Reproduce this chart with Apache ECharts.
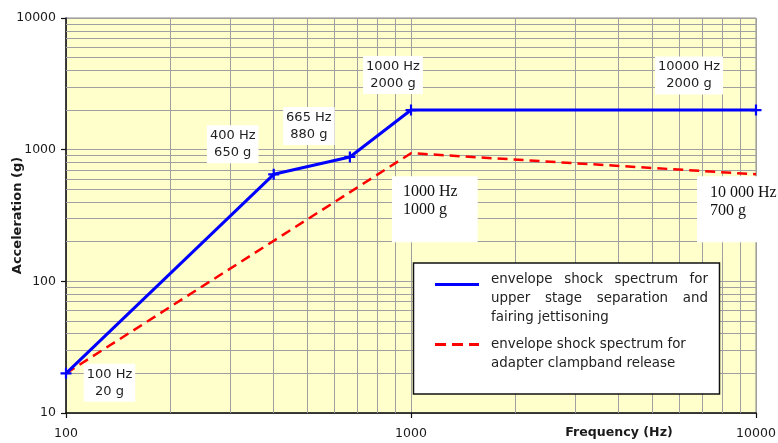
<!DOCTYPE html>
<html><head><meta charset="utf-8">
<script src="https://cdn.jsdelivr.net/npm/echarts@6/dist/echarts.min.js"></script>
<style>html,body{margin:0;padding:0;background:#fff}#c{width:778px;height:443px}</style>
</head><body><div id="c"></div>
<script>
// ---- data ----
const freqUpper = [100, 400, 665, 1000, 10000];
const accelUpper = [20, 650, 880, 2000, 2000];
const labelsUpper = ['100 Hz\n20 g', '400 Hz\n650 g', '665 Hz\n880 g', '1000 Hz\n2000 g', '10000 Hz\n2000 g'];
const freqAdapter = [100, 1000, 10000];
const accelAdapter = [20, 940, 650];
const labelsAdapter = ['', '1000 Hz\n1000 g', '10 000 Hz\n700 g'];
const xMinorTicks = [200, 300, 400, 500, 600, 700, 800, 900, 2000, 3000, 4000, 5000, 6000, 7000, 8000, 9000];
const yMinorTicks = [20, 30, 40, 50, 60, 70, 80, 90, 200, 300, 400, 500, 600, 700, 800, 900, 2000, 3000, 4000, 5000, 6000, 7000, 8000, 9000];
const xTickLabels = ['100', '1000', '10000'];
const yTickLabels = ['10', '100', '1000', '10000'];
const legendUpper = [['envelope', 'shock', 'spectrum', 'for'], ['upper', 'stage', 'separation', 'and'], ['fairing jettisoning']];
const legendAdapter = [['envelope shock spectrum for'], ['adapter clampband release']];

// ---- styling / layout ----
const SANS = '"DejaVu Sans", Verdana, sans-serif';
const SERIF = '"Liberation Serif", "Times New Roman", serif';
const upperLabelOffsets = [[43.5, 9.5], [-41, -30], [-41, -31], [-18, -35], [-67, -34.5]];
const adapterLabelOffsets = [null, [-19, 23], [-59, 2]];
const adapterLabelPadding = [null, [7, 20, 23, 11], [7, 30, 23, 13]];

const chart = echarts.init(document.getElementById('c'), null, {renderer: 'canvas'});

const plusPath = 'path://M4,0H6V4H10V6H6V10H4V6H0V4H4Z';

const upperData = freqUpper.map((f, i) => ({
  value: [f, accelUpper[i]],
  label: {
    show: true,
    formatter: labelsUpper[i],
    position: 'inside',
    offset: upperLabelOffsets[i],
    backgroundColor: '#fff',
    padding: [2, 3],
    color: '#222',
    fontFamily: SANS,
    fontSize: 13,
    lineHeight: 17,
    align: 'center',
    verticalAlign: 'middle'
  }
}));

const adapterData = freqAdapter.map((f, i) => {
  const d = {value: [f, accelAdapter[i]]};
  if (labelsAdapter[i]) {
    d.label = {
      show: true,
      formatter: labelsAdapter[i],
      position: 'inside',
      offset: adapterLabelOffsets[i],
      align: 'left',
      verticalAlign: 'top',
      backgroundColor: '#fff',
      padding: adapterLabelPadding[i],
      color: '#111',
      fontFamily: SERIF,
      fontSize: 16,
      lineHeight: 18
    };
  } else {
    d.label = {show: false};
  }
  return d;
});

// legend graphic with justified text
const ctx = document.createElement('canvas').getContext('2d');
const LFONT = '13.4px "DejaVu Sans"';
ctx.font = LFONT;
function lineTexts(words, x0, width, y, justify) {
  const els = [];
  if (!justify || words.length === 1) {
    els.push({type: 'text', z: 101, style: {x: x0, y: y, text: words.join(' '), font: LFONT, fill: '#222', verticalAlign: 'middle'}});
    return els;
  }
  const ws = words.map(w => ctx.measureText(w).width);
  const total = ws.reduce((a, b) => a + b, 0);
  const gap = (width - total) / (words.length - 1);
  let x = x0;
  words.forEach((w, i) => {
    els.push({type: 'text', z: 101, style: {x: x, y: y, text: w, font: LFONT, fill: '#222', verticalAlign: 'middle'}});
    x += ws[i] + gap;
  });
  return els;
}
const LX = 491, LW = 217;
let legendEls = [
  {type: 'rect', z: 100, shape: {x: 413.5, y: 263, width: 306, height: 131}, style: {fill: '#ffffff', stroke: '#111', lineWidth: 1.5}},
  {type: 'line', z: 101, shape: {x1: 435, y1: 284.5, x2: 479, y2: 284.5}, style: {stroke: '#0000FF', lineWidth: 3}},
  {type: 'line', z: 101, shape: {x1: 435, y1: 344.5, x2: 479, y2: 344.5}, style: {stroke: '#FF0000', lineWidth: 3, lineDash: [11, 6]}}
];
const upperY = [280, 299, 317.5];
legendUpper.forEach((w, i) => { legendEls = legendEls.concat(lineTexts(w, LX, LW, upperY[i], i < 2)); });
const adapterY = [345, 363.5];
legendAdapter.forEach((w, i) => { legendEls = legendEls.concat(lineTexts(w, LX, LW, adapterY[i], false)); });

const option = {
  animation: false,
  backgroundColor: '#fff',
  grid: {left: 66, top: 18, width: 690, height: 395, show: true, backgroundColor: '#FFFFCC', borderColor: '#8a8a8a', borderWidth: 1,
    containLabel: false, outerBoundsMode: 'none'},
  xAxis: {
    type: 'log', logBase: 10, min: 100, max: 10000,
    axisLine: {show: true, onZero: false, lineStyle: {color: '#111', width: 1.5}},
    axisTick: {show: true, length: 5, lineStyle: {color: '#111', width: 1.2}},
    axisLabel: {color: '#1a1a1a', fontFamily: SANS, fontSize: 12.5, margin: 14, hideOverlap: false,
      formatter: v => xTickLabels.find(t => Number(t) === Math.round(v)) || ''},
    splitLine: {show: true, lineStyle: {color: '#a0a0a0', width: 1}},
    minorTick: {show: false}, minorSplitLine: {show: false},
    name: 'Frequency (Hz)', nameLocation: 'middle', nameGap: 13, nameMoveOverlap: false,
    nameTextStyle: {fontFamily: SANS, fontWeight: 'bold', fontSize: 12.6, color: '#1a1a1a', padding: [0, 0, 0, 416]}
  },
  yAxis: {
    type: 'log', logBase: 10, min: 10, max: 10000,
    axisLine: {show: true, onZero: false, lineStyle: {color: '#111', width: 1.5}},
    axisTick: {show: true, length: 5, lineStyle: {color: '#111', width: 1.2}},
    axisLabel: {color: '#1a1a1a', fontFamily: SANS, fontSize: 12.5, margin: 10,
      formatter: v => yTickLabels.find(t => Number(t) === Math.round(v)) || ''},
    splitLine: {show: true, lineStyle: {color: '#a0a0a0', width: 1}},
    name: 'Acceleration (g)', nameLocation: 'middle', nameGap: 42, nameMoveOverlap: false,
    nameTextStyle: {fontFamily: SANS, fontWeight: 'bold', fontSize: 13, color: '#1a1a1a'}
  },
  series: [
    {
      type: 'line', name: 'minor grid', z: 1, silent: true,
      data: [[100, 10]], symbol: 'none', lineStyle: {opacity: 0},
      markLine: {
        silent: true, symbol: 'none', animation: false,
        label: {show: false},
        lineStyle: {color: '#a0a0a0', width: 1, type: 'solid'},
        emphasis: {disabled: true},
        data: xMinorTicks.map(v => ({xAxis: v})).concat(yMinorTicks.map(v => ({yAxis: v})))
      }
    },
    {
      type: 'line', name: 'envelope shock spectrum for adapter clampband release', z: 10,
      data: adapterData,
      symbol: 'circle', symbolSize: 2, showSymbol: true,
      itemStyle: {color: 'rgba(0,0,0,0)'},
      lineStyle: {color: '#FF0000', width: 2.5, type: [10, 6]}
    },
    {
      type: 'line', name: 'envelope shock spectrum for upper stage separation and fairing jettisoning', z: 11,
      data: upperData,
      symbol: plusPath, symbolSize: 11, showSymbol: true,
      itemStyle: {color: '#0000FF'},
      lineStyle: {color: '#0000FF', width: 3}
    }
  ],
  graphic: legendEls
};
chart.setOption(option);
</script>
</body></html>
